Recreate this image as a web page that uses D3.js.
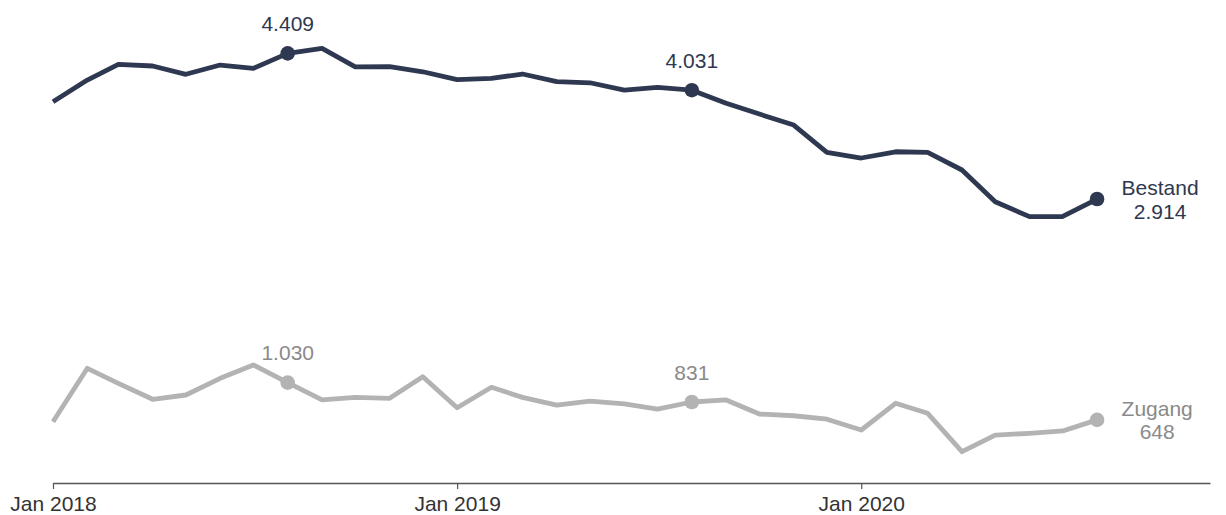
<!DOCTYPE html>
<html>
<head>
<meta charset="utf-8">
<script src="https://cdn.jsdelivr.net/npm/d3@7"></script>
<style>
  html, body { margin: 0; padding: 0; background: #fff; }
  svg { display: block; font-family: "Liberation Sans", Arial, Helvetica, sans-serif; }
</style>
</head>
<body>
<svg id="chart" width="1226" height="515"></svg>
<script>
// Monthly data, Jan 2018 – Aug 2020
const months = [
  "2018-01","2018-02","2018-03","2018-04","2018-05","2018-06","2018-07","2018-08",
  "2018-09","2018-10","2018-11","2018-12",
  "2019-01","2019-02","2019-03","2019-04","2019-05","2019-06","2019-07","2019-08",
  "2019-09","2019-10","2019-11","2019-12",
  "2020-01","2020-02","2020-03","2020-04","2020-05","2020-06","2020-07","2020-08"
];
const bestand = [
  3912, 4135, 4296, 4279, 4194, 4289, 4255, 4409,
  4460, 4271, 4273, 4220,
  4140, 4152, 4197, 4118, 4107, 4032, 4060, 4031,
  3896, 3786, 3673, 3393,
  3335, 3399, 3393, 3212, 2886, 2733, 2735, 2914
];
const zugang = [
  629, 1177, 1023, 859, 903, 1074, 1211, 1030,
  852, 879, 869, 1091,
  772, 982, 879, 800, 841, 811, 759, 831,
  852, 708, 690, 655,
  544, 818, 715, 321, 492, 510, 534, 648
];
const seriesNames = ["Bestand", "Zugang"];
const highlightMonths = ["2018-08", "2019-08"];
const tickYears = ["2018-01", "2019-01", "2020-01"];
const xDomain = ["2018-01-01", "2020-11-11"];
const yDomain = [0, 4900];

const colors = { Bestand: "#2e3850", Zugang: "#b3b3b3" };
const textColors = { Bestand: "#2e3850", Zugang: "#8a8a8a" };

const parseM = d3.timeParse("%Y-%m");
const parseD = d3.timeParse("%Y-%m-%d");
const fmtNum = d3.formatLocale({ decimal: ",", thousands: ".", grouping: [3], currency: ["", "€"] }).format(",d");

const FS = 21;
const svg = d3.select("#chart");
const x = d3.scaleTime().domain(xDomain.map(parseD)).range([53, 1210]);
const y = d3.scaleLinear().domain(yDomain).range([483, 5.5]);

// Axis
const axis = d3.axisBottom(x)
  .tickValues(tickYears.map(parseM))
  .tickFormat(d3.timeFormat("%b %Y"))
  .tickSize(6)
  .tickSizeOuter(0)
  .tickPadding(7);
const gAxis = svg.append("g").attr("transform", `translate(0,${y(0)})`).call(axis);
gAxis.select(".domain").attr("stroke", "#555").attr("stroke-width", 1.5);
gAxis.selectAll(".tick line").attr("stroke", "#555").attr("stroke-width", 1.2);
gAxis.selectAll(".tick text")
  .attr("fill", "#333")
  .attr("font-size", FS)
  .attr("font-family", "\"Liberation Sans\", Arial, sans-serif");

const series = [
  { name: "Bestand", values: bestand },
  { name: "Zugang", values: zugang }
];

const line = d3.line()
  .x((d, i) => x(parseM(months[i])))
  .y(d => y(d));

series.forEach(s => {
  const col = colors[s.name];
  const tcol = textColors[s.name];
  const g = svg.append("g");
  g.append("path")
    .datum(s.values)
    .attr("fill", "none")
    .attr("stroke", col)
    .attr("stroke-width", 4.8)
    .attr("stroke-linejoin", "round")
    .attr("d", line);

  // highlighted points
  highlightMonths.forEach(m => {
    const i = months.indexOf(m);
    const px = x(parseM(months[i])), py = y(s.values[i]);
    g.append("circle").attr("cx", px).attr("cy", py).attr("r", 7.3).attr("fill", col);
    g.append("text")
      .attr("x", px).attr("y", py - 22.5)
      .attr("text-anchor", "middle")
      .attr("font-size", FS)
      .attr("fill", tcol)
      .text(fmtNum(s.values[i]));
  });

  // last point with name + value
  const li = s.values.length - 1;
  const lx = x(parseM(months[li])), ly = y(s.values[li]);
  g.append("circle").attr("cx", lx).attr("cy", ly).attr("r", 7.3).attr("fill", col);
  const t1 = g.append("text").attr("y", ly - 4).attr("font-size", FS).attr("fill", tcol)
    .attr("text-anchor", "middle").text(s.name);
  const t2 = g.append("text").attr("y", ly + 19.5).attr("font-size", FS).attr("fill", tcol)
    .attr("text-anchor", "middle").text(fmtNum(s.values[li]));
  const w = Math.max(t1.node().getComputedTextLength(), t2.node().getComputedTextLength());
  const cx = lx + 24.5 + w / 2;
  t1.attr("x", cx);
  t2.attr("x", cx);
});
</script>
</body>
</html>
